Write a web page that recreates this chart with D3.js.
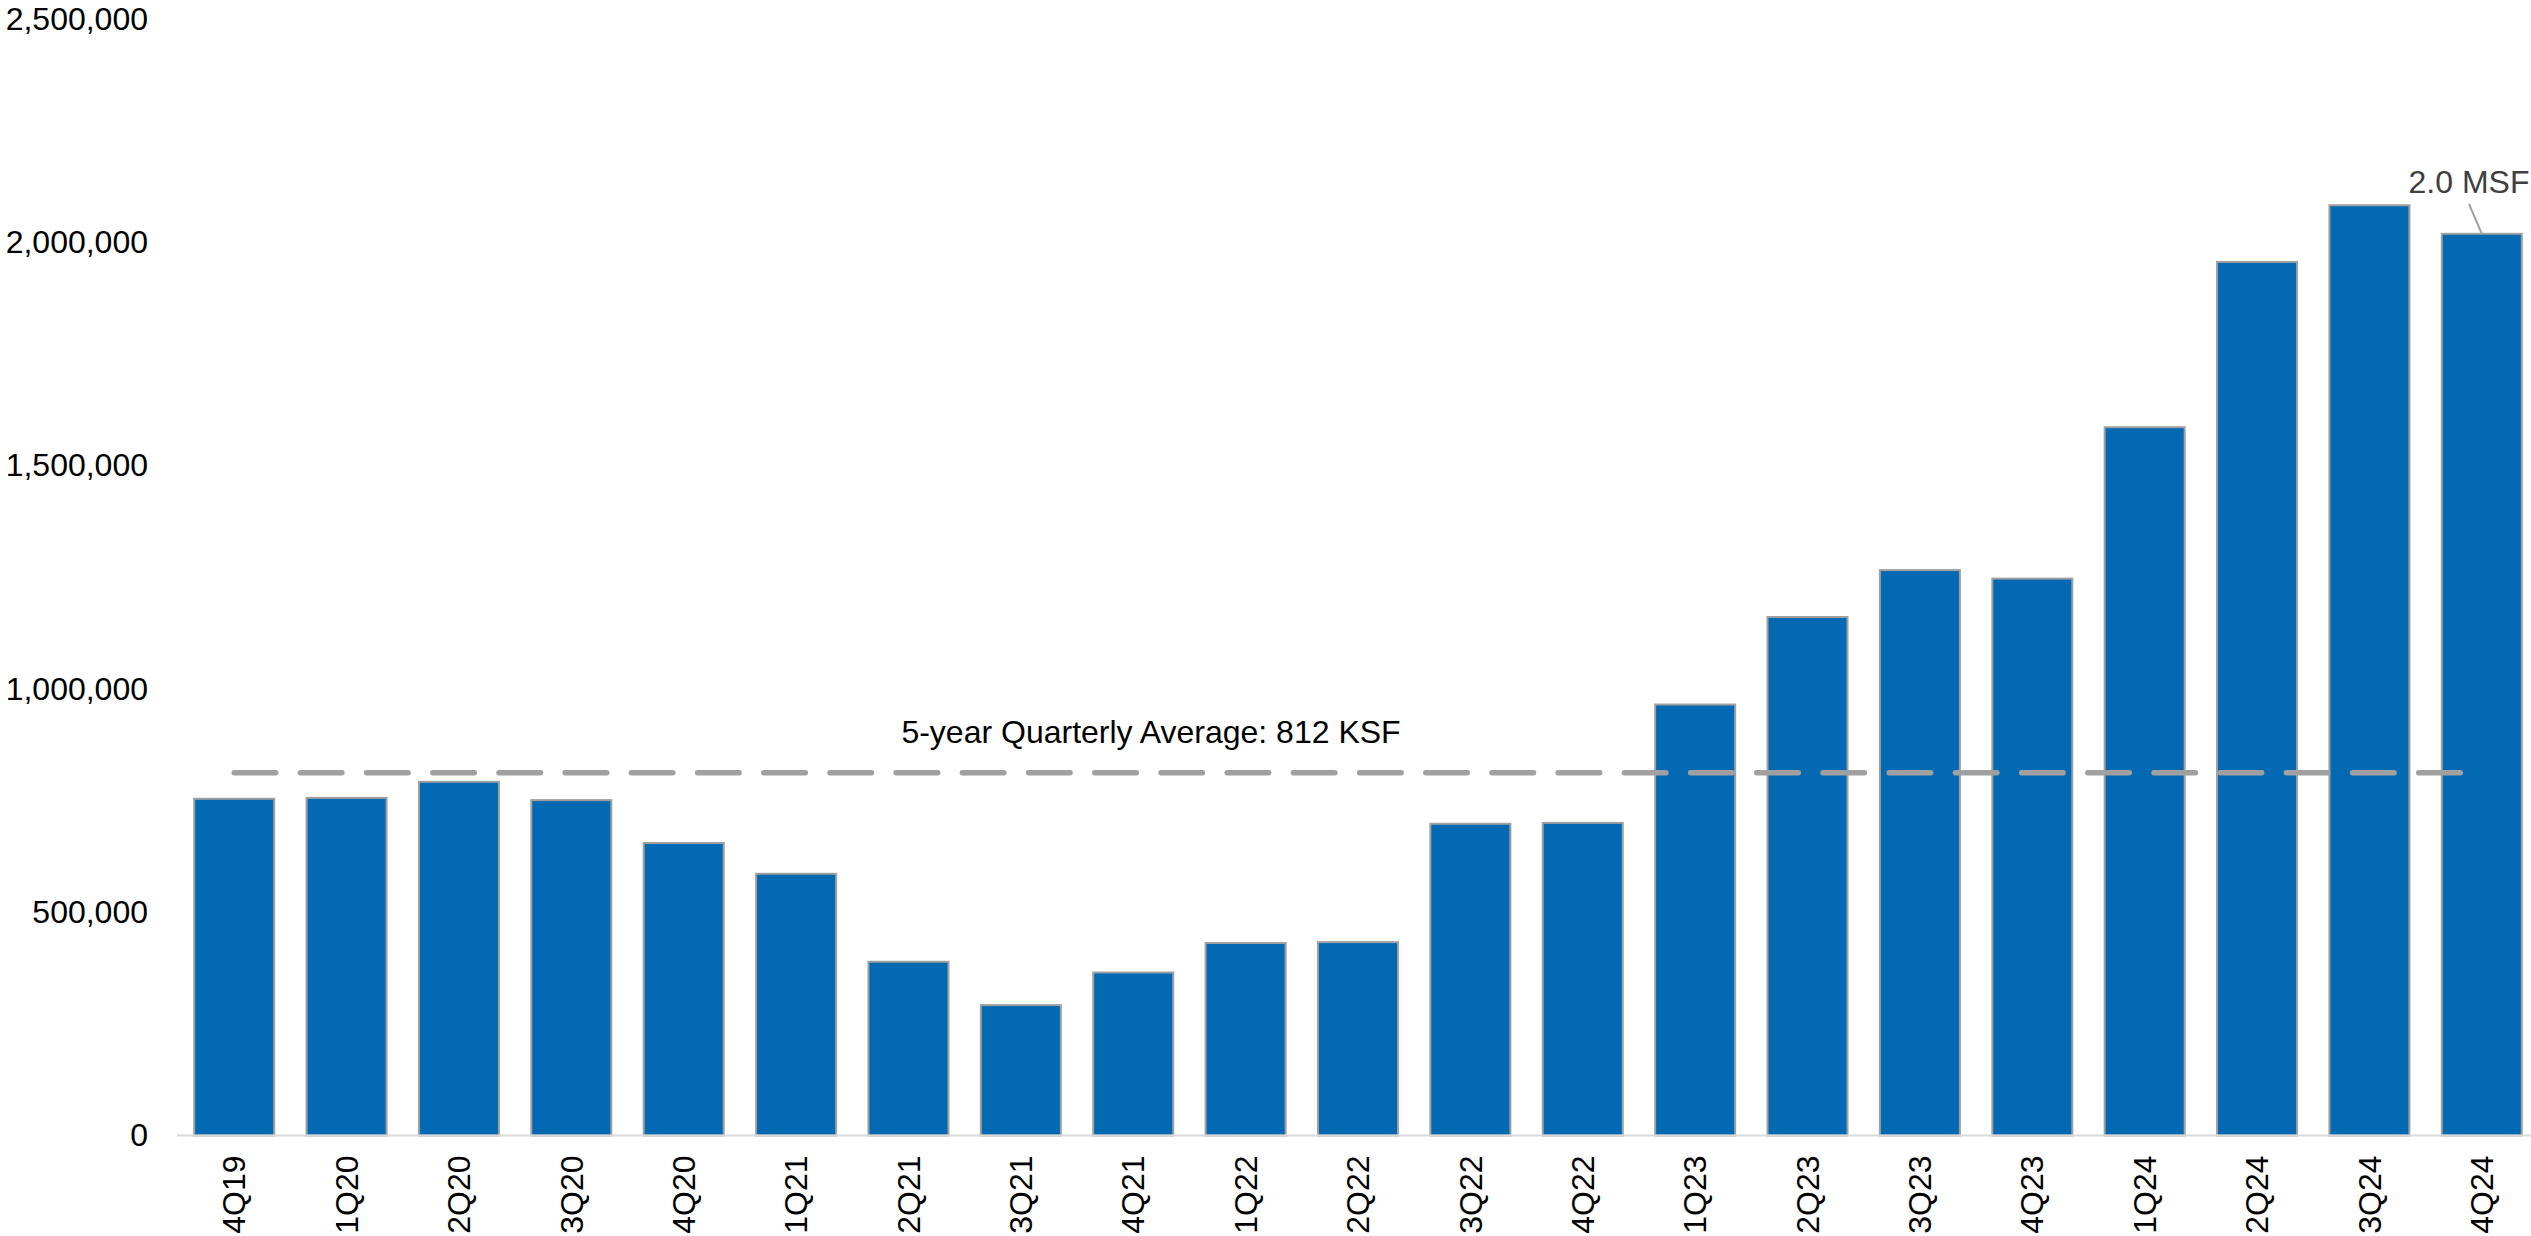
<!DOCTYPE html>
<html>
<head>
<meta charset="utf-8">
<script src="https://cdn.jsdelivr.net/npm/d3@7"></script>
<style>
  html, body { margin: 0; padding: 0; background: #ffffff; }
  svg { display: block; font-family: "Liberation Sans", Arial, sans-serif; }
</style>
</head>
<body>
<svg id="chart" width="2531" height="1236"></svg>
<script>
// Quarterly net absorption (SF)
const quarters = ["4Q19","1Q20","2Q20","3Q20","4Q20","1Q21","2Q21","3Q21","4Q21",
                  "1Q22","2Q22","3Q22","4Q22","1Q23","2Q23","3Q23","4Q23",
                  "1Q24","2Q24","3Q24","4Q24"];
const absorption = [754000, 756000, 792000, 751000, 655000, 586000, 389000, 292000, 365000,
                    431000, 433000, 698000, 700000, 965000, 1161000, 1266000, 1247000,
                    1586000, 1956000, 2083000, 2019000];
const yTicks = [0, 500000, 1000000, 1500000, 2000000, 2500000];
const averageValue = 812000;
const averageLabel = "5-year Quarterly Average: 812 KSF";
const calloutLabel = "2.0 MSF";

const svg = d3.select("#chart");

const x = d3.scaleBand()
  .domain(quarters)
  .range([178, 2538])
  .paddingInner(0.288)
  .paddingOuter(0.144);

const y = d3.scaleLinear()
  .domain([0, 2500000])
  .range([1135.5, 19]);

// Bars
svg.append("g")
  .selectAll("rect")
  .data(quarters.map((q, i) => ({ q, v: absorption[i] })))
  .join("rect")
  .attr("x", d => x(d.q))
  .attr("y", d => y(d.v))
  .attr("width", x.bandwidth())
  .attr("height", d => y(0) - y(d.v))
  .attr("fill", "#0369B3")
  .attr("stroke", "#A0A0A0")
  .attr("stroke-width", 2);

// Baseline
svg.append("line")
  .attr("x1", 177).attr("x2", 2531)
  .attr("y1", y(0)).attr("y2", y(0))
  .attr("stroke", "#D9D9D9")
  .attr("stroke-width", 2);

// Y axis labels (no axis line, no ticks)
const yAxis = d3.axisLeft(y)
  .tickValues(yTicks)
  .tickFormat(d3.format(","))
  .tickSize(0)
  .tickPadding(0);
const yg = svg.append("g")
  .attr("transform", "translate(148,0)")
  .call(yAxis);
yg.select(".domain").remove();
yg.selectAll("text")
  .attr("font-size", 32)
  .attr("font-family", "Liberation Sans, Arial, sans-serif")
  .attr("fill", "#000");

// X axis labels, rotated
const xAxis = d3.axisBottom(x).tickSize(0).tickPadding(0);
const xg = svg.append("g")
  .attr("transform", `translate(0,${y(0)})`)
  .call(xAxis);
xg.select(".domain").remove();
xg.selectAll("text")
  .attr("font-size", 32)
  .attr("font-family", "Liberation Sans, Arial, sans-serif")
  .attr("fill", "#000")
  .attr("text-anchor", "end")
  .attr("transform", "translate(0,20) rotate(-90)")
  .attr("x", 0)
  .attr("y", 0)
  .attr("dy", "0.35em");

// 5-year average dashed line across category centres
const avgLine = d3.line()
  .x(d => x(d) + x.bandwidth() / 2)
  .y(() => y(averageValue));
svg.append("path")
  .datum([quarters[0], quarters[quarters.length - 1]])
  .attr("d", avgLine)
  .attr("fill", "none")
  .attr("stroke", "#A0A0A0")
  .attr("stroke-width", 5.5)
  .attr("stroke-linecap", "round")
  .attr("stroke-dasharray", "41.5 24.7");

svg.append("text")
  .attr("x", 1151)
  .attr("y", y(averageValue) - 30)
  .attr("text-anchor", "middle")
  .attr("font-size", 32)
  .attr("fill", "#000")
  .text(averageLabel);

// Callout on the latest quarter
const lastQ = quarters[quarters.length - 1];
const lastV = absorption[absorption.length - 1];
svg.append("line")
  .attr("x1", 2469).attr("y1", 204)
  .attr("x2", x(lastQ) + x.bandwidth() / 2).attr("y2", y(lastV))
  .attr("stroke", "#A0A0A0")
  .attr("stroke-width", 2);
svg.append("text")
  .attr("x", 2469)
  .attr("y", 193)
  .attr("text-anchor", "middle")
  .attr("font-size", 32)
  .attr("fill", "#404040")
  .text(calloutLabel);
</script>
</body>
</html>
